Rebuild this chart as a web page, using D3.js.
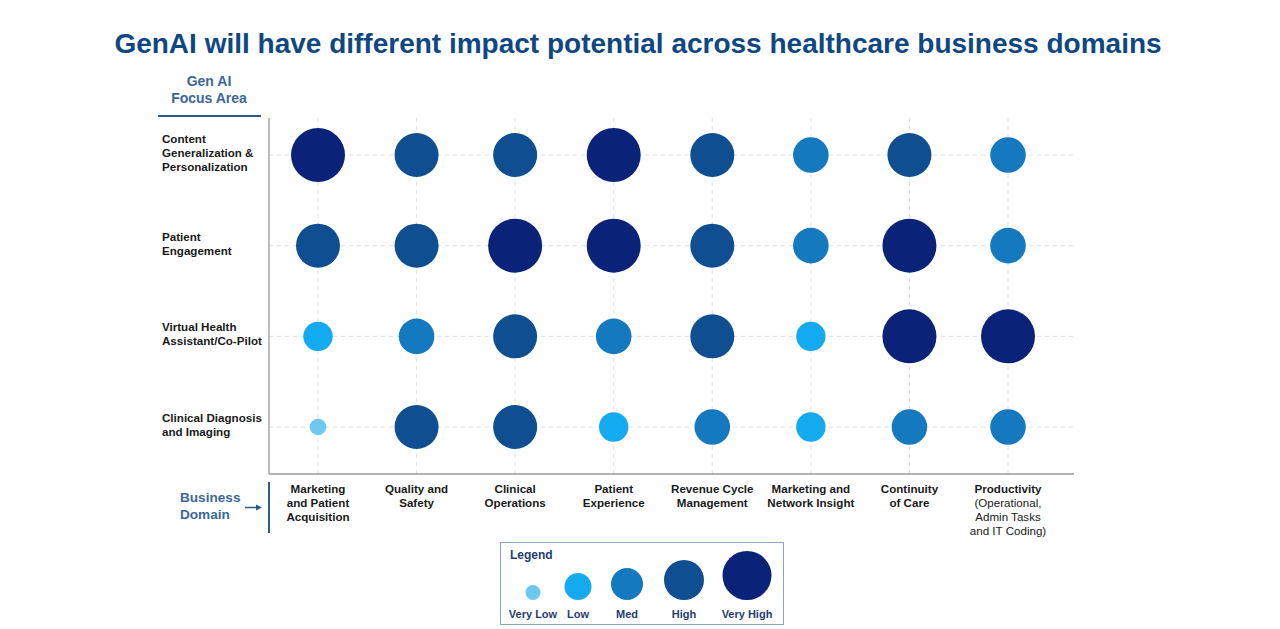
<!DOCTYPE html>
<html><head><meta charset="utf-8">
<script src="https://cdn.jsdelivr.net/npm/d3@7"></script>
<style>body{margin:0;background:#fff;} svg{display:block;font-family:"Liberation Sans",Arial,Helvetica,sans-serif;}</style>
</head><body>
<svg id="chart" width="1280" height="629"></svg>
<script>
// ---- data ----
const domains = [
  ["Marketing","and Patient","Acquisition"],
  ["Quality and","Safety"],
  ["Clinical","Operations"],
  ["Patient","Experience"],
  ["Revenue Cycle","Management"],
  ["Marketing and","Network Insight"],
  ["Continuity","of Care"],
  ["Productivity","(Operational,","Admin Tasks","and IT Coding)"]
];
const focusAreas = [
  ["Content","Generalization &","Personalization"],
  ["Patient","Engagement"],
  ["Virtual Health","Assistant/Co-Pilot"],
  ["Clinical Diagnosis","and Imaging"]
];
const levels = ["Very Low","Low","Med","High","Very High"];
// impact level index (0 = Very Low ... 4 = Very High) per focus area, across business domains
const contentGen   = [4,3,3,4,3,2,3,2];
const patientEng   = [3,3,4,4,3,2,4,2];
const virtualAsst  = [1,2,3,2,3,1,4,4];
const clinicalDiag = [0,3,3,1,2,1,2,2];
const rowsData = [contentGen, patientEng, virtualAsst, clinicalDiag];

const levelColors = ["#6dc8f1","#14aaef","#1479bf","#0f4e91","#0a2379"];
const levelRadius = [8.3,14.7,17.8,22,27];
const legendRadius = [7.5,13.5,16,20,24.5];
const legendX = [533,578,627,684,747];

// ---- drawing ----
const svg = d3.select("#chart");
const blue = "#0f4783", steel = "#3b679b", lineBlue = "#2f5a8c";

svg.append("text").attr("x",638).attr("y",53).attr("text-anchor","middle")
  .attr("font-size",28).attr("font-weight","bold").attr("fill",blue)
  .text("GenAI will have different impact potential across healthcare business domains");

const x = d3.scalePoint().domain(d3.range(domains.length)).range([318,1008]);
const y = d3.scalePoint().domain(d3.range(focusAreas.length)).range([155,427]);
const color = d3.scaleOrdinal().domain(d3.range(5)).range(levelColors);
const rad = d3.scaleOrdinal().domain(d3.range(5)).range(levelRadius);
const radL = d3.scaleOrdinal().domain(d3.range(5)).range(legendRadius);
const lxs = d3.scaleOrdinal().domain(d3.range(5)).range(legendX);

const plotL = 269, plotR = 1074, plotT = 118, plotB = 474;

// gridlines
const grid = svg.append("g").attr("stroke","#dcdfe4").attr("stroke-dasharray","4,4").attr("stroke-width",1);
grid.selectAll("line.h").data(d3.range(focusAreas.length)).join("line").attr("class","h")
  .attr("x1",plotL).attr("x2",plotR).attr("y1",d=>y(d)).attr("y2",d=>y(d));
grid.selectAll("line.v").data(d3.range(domains.length)).join("line").attr("class","v")
  .attr("x1",d=>x(d)).attr("x2",d=>x(d)).attr("y1",plotT).attr("y2",plotB);

// axes lines
svg.append("line").attr("x1",plotL).attr("x2",plotL).attr("y1",plotT).attr("y2",plotB).attr("stroke","#9a9a9a").attr("stroke-width",1.3);
svg.append("line").attr("x1",plotL).attr("x2",plotR).attr("y1",plotB).attr("y2",plotB).attr("stroke","#9a9a9a").attr("stroke-width",1.3);

// bubbles
const cells = [];
rowsData.forEach((row,ri)=>row.forEach((lv,ci)=>cells.push({ri,ci,lv})));
svg.append("g").selectAll("circle").data(cells).join("circle")
  .attr("cx",d=>x(d.ci)).attr("cy",d=>y(d.ri)).attr("r",d=>rad(d.lv)).attr("fill",d=>color(d.lv));

// row labels
const rowG = svg.append("g").attr("font-size",11.6).attr("font-weight","bold").attr("fill","#1a1a1a");
focusAreas.forEach((lines,i)=>{
  const lh = 14, y0 = y(i) - (lines.length-1)*lh/2 + 2;
  const t = rowG.append("text").attr("x",162).attr("y",y0);
  lines.forEach((l,k)=>t.append("tspan").attr("x",162).attr("dy",k===0?0:lh).text(l));
});

// column labels
const colG = svg.append("g").attr("font-size",11.6).attr("fill","#1a1a1a").attr("text-anchor","middle");
domains.forEach((lines,i)=>{
  const t = colG.append("text").attr("x",x(i)).attr("y",493);
  lines.forEach((l,k)=>t.append("tspan").attr("x",x(i)).attr("dy",k===0?0:14)
    .attr("font-weight",(i===7 && k>0)?"normal":"bold").text(l));
});

// Gen AI Focus Area header
const hdr = svg.append("text").attr("x",209).attr("y",86).attr("text-anchor","middle")
  .attr("font-size",14).attr("font-weight","bold").attr("fill",steel);
hdr.append("tspan").attr("x",209).attr("dy",0).text("Gen AI");
hdr.append("tspan").attr("x",209).attr("dy",17).text("Focus Area");
svg.append("line").attr("x1",158).attr("x2",261).attr("y1",116).attr("y2",116).attr("stroke",lineBlue).attr("stroke-width",2);

// Business Domain label
const bd = svg.append("text").attr("x",180).attr("y",502)
  .attr("font-size",13.6).attr("font-weight","bold").attr("fill",steel);
bd.append("tspan").attr("x",180).attr("dy",0).text("Business");
bd.append("tspan").attr("x",180).attr("dy",17).text("Domain");
svg.append("line").attr("x1",245).attr("x2",259).attr("y1",507.5).attr("y2",507.5).attr("stroke",lineBlue).attr("stroke-width",1.5);
svg.append("path").attr("d","M262,507.5 L256,504.5 L256,510.5 Z").attr("fill",lineBlue);
svg.append("line").attr("x1",269).attr("x2",269).attr("y1",482).attr("y2",533).attr("stroke",lineBlue).attr("stroke-width",2);

// legend
const lg = svg.append("g");
lg.append("rect").attr("x",500.5).attr("y",542.5).attr("width",283).attr("height",82)
  .attr("fill","#fff").attr("stroke","#8aa6c6").attr("stroke-width",1);
lg.append("text").attr("x",510).attr("y",559).attr("font-size",12).attr("font-weight","bold").attr("fill","#1f3d73").text("Legend");
lg.selectAll("circle").data(d3.range(5)).join("circle")
  .attr("cx",d=>lxs(d)).attr("cy",d=>600-radL(d)).attr("r",d=>radL(d)).attr("fill",d=>color(d));
lg.selectAll("text.l").data(levels).join("text").attr("class","l")
  .attr("x",(d,i)=>lxs(i)).attr("y",618).attr("text-anchor","middle")
  .attr("font-size",11).attr("font-weight","bold").attr("fill","#1f3d73").text(d=>d);
</script>
</body></html>
